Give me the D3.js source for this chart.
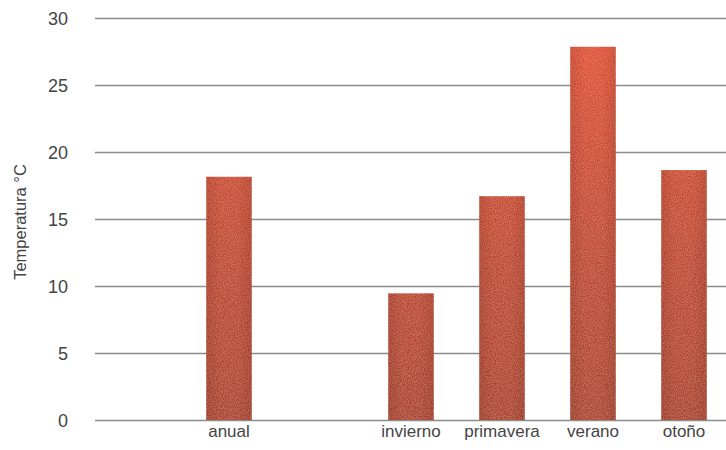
<!DOCTYPE html>
<html>
<head>
<meta charset="utf-8">
<script src="https://cdn.jsdelivr.net/npm/d3@7"></script>
<style>
  html, body { margin: 0; padding: 0; background: #fff; }
  svg { display: block; }
</style>
</head>
<body>
<svg id="chart" width="726" height="450"></svg>
<script>
// Mean temperature per period
const categories = ["anual", "invierno", "primavera", "verano", "otoño"];
const values = [18.15, 9.45, 16.7, 27.85, 18.65];
// Slot order along the x axis (blank slots leave empty space)
const slots = ["", "anual", " ", "invierno", "primavera", "verano", "otoño"];
const yTicks = [0, 5, 10, 15, 20, 25, 30];
const yTitle = "Temperatura °C";

const svg = d3.select("#chart");
const plotLeft = 95, plotRight = 726;
const y0 = 420, y1 = 18;

const x = d3.scaleBand()
  .domain(slots)
  .range([92.5, 729.5])
  .paddingInner(0.5)
  .paddingOuter(0.25);

const y = d3.scaleLinear().domain([0, 30]).range([y0, y1]);

const defs = svg.append("defs");

// vertical colour ramp shared by all bars (brighter higher up)
const grad = defs.append("linearGradient")
  .attr("id", "barFill")
  .attr("gradientUnits", "userSpaceOnUse")
  .attr("x1", 0).attr("x2", 0)
  .attr("y1", y(0)).attr("y2", y(30));
grad.append("stop").attr("offset", "0%").attr("stop-color", "#a83a2a");
grad.append("stop").attr("offset", "45%").attr("stop-color", "#c0422f");
grad.append("stop").attr("offset", "100%").attr("stop-color", "#e34a30");

// slightly darker side edges
const side = defs.append("linearGradient")
  .attr("id", "barSide")
  .attr("x1", 0).attr("x2", 1).attr("y1", 0).attr("y2", 0);
side.append("stop").attr("offset", "0%").attr("stop-color", "#5a1208").attr("stop-opacity", 0.14);
side.append("stop").attr("offset", "30%").attr("stop-color", "#5a1208").attr("stop-opacity", 0);
side.append("stop").attr("offset", "70%").attr("stop-color", "#5a1208").attr("stop-opacity", 0);
side.append("stop").attr("offset", "100%").attr("stop-color", "#5a1208").attr("stop-opacity", 0.14);

// fine grain on the bars
const grain = defs.append("filter").attr("id", "grain")
  .attr("x", 0).attr("y", 0).attr("width", 1).attr("height", 1);
grain.append("feTurbulence")
  .attr("type", "fractalNoise").attr("baseFrequency", 0.85)
  .attr("numOctaves", 2).attr("seed", 3).attr("result", "noise");
grain.append("feColorMatrix")
  .attr("in", "noise").attr("type", "matrix")
  .attr("values", "0 0 0 0 0.95  0 0 0 0 0.6  0 0 0 0 0.4  0 0 0 0.45 -0.12")
  .attr("result", "tint");
grain.append("feComposite")
  .attr("in", "tint").attr("in2", "SourceAlpha").attr("operator", "in").attr("result", "tintIn");
const merge = grain.append("feMerge");
merge.append("feMergeNode").attr("in", "SourceGraphic");
merge.append("feMergeNode").attr("in", "tintIn");

// gridlines
const grid = svg.append("g")
  .attr("transform", `translate(${plotLeft},0)`)
  .call(d3.axisLeft(y).tickValues(yTicks).tickSize(-(plotRight - plotLeft)).tickFormat(""));
grid.select(".domain").remove();
grid.selectAll(".tick line")
  .attr("stroke", "#8c8c8c")
  .attr("stroke-width", 1.6);

// y tick labels
const yAxis = svg.append("g")
  .attr("transform", "translate(68,0)")
  .call(d3.axisLeft(y).tickValues(yTicks).tickSize(0).tickPadding(0));
yAxis.select(".domain").remove();
yAxis.selectAll(".tick text")
  .attr("font-family", "'Liberation Sans', Arial, sans-serif")
  .attr("font-size", 18)
  .attr("fill", "#444")
  .attr("text-anchor", "end")
  .attr("dy", "0.35em");

// bars
const data = categories.map((c, i) => ({ c, v: values[i] }));
const bars = svg.append("g");
bars.selectAll("rect.bar")
  .data(data)
  .join("rect")
  .attr("class", "bar")
  .attr("x", d => x(d.c))
  .attr("width", x.bandwidth())
  .attr("y", d => y(d.v))
  .attr("height", d => y(0) - y(d.v))
  .attr("fill", "url(#barFill)")
  .attr("filter", "url(#grain)");
bars.selectAll("rect.side")
  .data(data)
  .join("rect")
  .attr("class", "side")
  .attr("x", d => x(d.c))
  .attr("width", x.bandwidth())
  .attr("y", d => y(d.v))
  .attr("height", d => y(0) - y(d.v))
  .attr("fill", "url(#barSide)");

// x labels
const xAxis = svg.append("g")
  .attr("transform", `translate(0,${y0})`)
  .call(d3.axisBottom(x).tickValues(categories).tickSize(0).tickPadding(0));
xAxis.select(".domain").remove();
xAxis.selectAll(".tick text")
  .attr("font-family", "'Liberation Sans', Arial, sans-serif")
  .attr("font-size", 17)
  .attr("fill", "#444")
  .attr("y", 17)
  .attr("dy", "0");

// y title
svg.append("text")
  .attr("transform", "translate(26,222) rotate(-90)")
  .attr("text-anchor", "middle")
  .attr("font-family", "'Liberation Sans', Arial, sans-serif")
  .attr("font-size", 16.5)
  .attr("fill", "#444")
  .text(yTitle);
</script>
</body>
</html>
